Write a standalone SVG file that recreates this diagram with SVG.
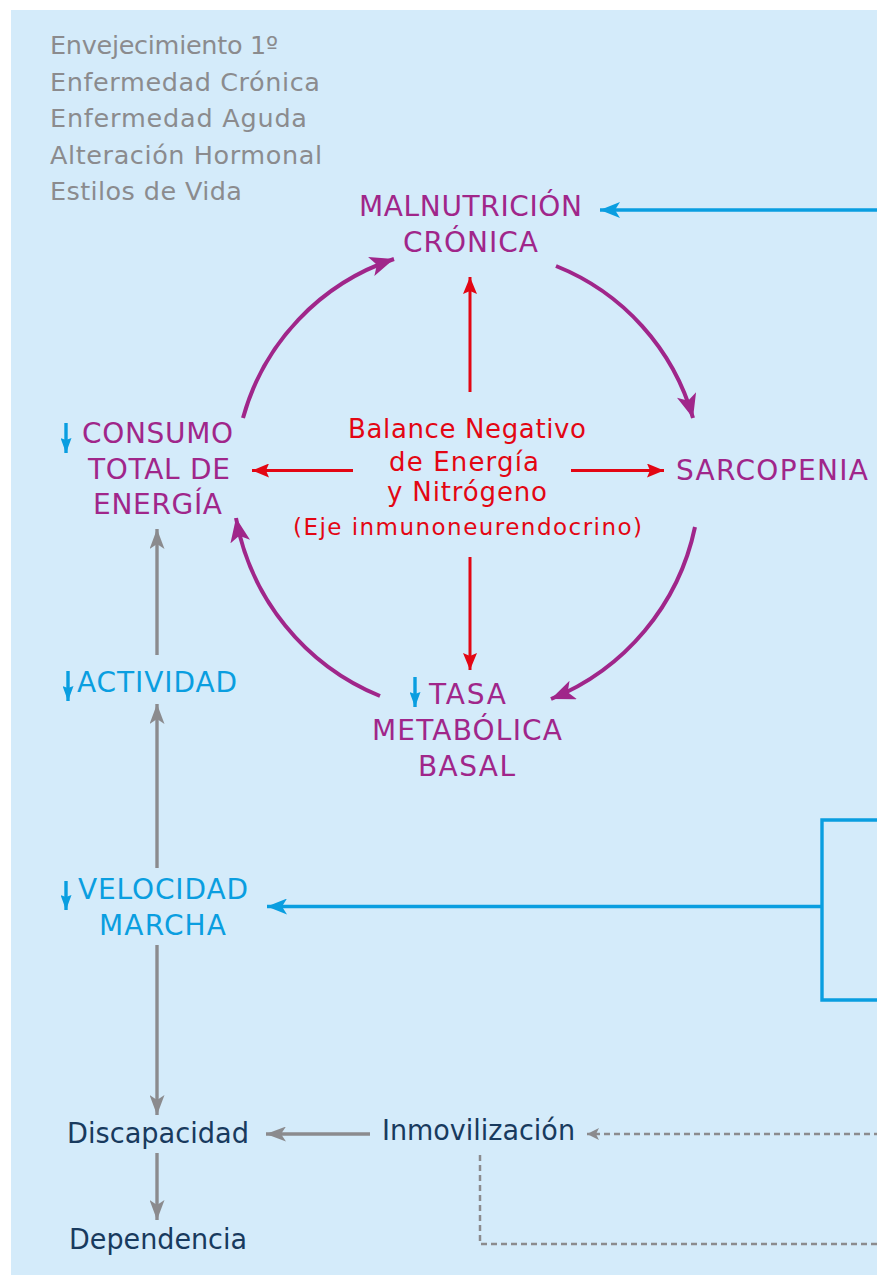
<svg xmlns="http://www.w3.org/2000/svg" width="877" height="1279" viewBox="0 0 877 1279">
<style>
text{font-family:"DejaVu Sans","Noto Sans",sans-serif;}
.g{fill:#8B8B8E;font-size:25.5px;}
.p{fill:#A0268A;font-size:28px;}
.r{fill:#E30613;font-size:26px;}
.b{fill:#0A9EE0;font-size:28px;}
.n{fill:#183A5E;font-size:28px;font-family:"DejaVu Sans Condensed","Liberation Sans Narrow","DejaVu Sans",sans-serif;}
.pl{fill:none;stroke:#A0268A;stroke-width:4;}
.rl{fill:none;stroke:#E30613;stroke-width:3;}
.bl{fill:none;stroke:#0A9EE0;stroke-width:3.4;}
.gl{fill:none;stroke:#8B8B8E;stroke-width:3.4;}
.gd{fill:none;stroke:#8B8B8E;stroke-width:2.5;stroke-dasharray:6 4;}
</style>
<defs>
<marker id="mp" markerUnits="userSpaceOnUse" viewBox="0 0 24 20" refX="24" refY="10" markerWidth="24" markerHeight="20" orient="auto"><path d="M0,0 L24,10 L0,20 L6,10 Z" fill="#A0268A"/></marker>
<marker id="mr" markerUnits="userSpaceOnUse" viewBox="0 0 17 14" refX="17" refY="7" markerWidth="17" markerHeight="14" orient="auto"><path d="M0,0 L17,7 L0,14 L3,7 Z" fill="#E30613"/></marker>
<marker id="mb" markerUnits="userSpaceOnUse" viewBox="0 0 20 16" refX="20" refY="8" markerWidth="20" markerHeight="16" orient="auto"><path d="M0,0 L20,8 L0,16 L5,8 Z" fill="#0A9EE0"/></marker>
<marker id="mbs" markerUnits="userSpaceOnUse" viewBox="0 0 15 11" refX="15" refY="5.5" markerWidth="15" markerHeight="11" orient="auto"><path d="M0,0 L15,5.5 L0,11 L2,5.5 Z" fill="#0A9EE0"/></marker>
<marker id="mg" markerUnits="userSpaceOnUse" viewBox="0 0 20 15" refX="20" refY="7.5" markerWidth="20" markerHeight="15" orient="auto"><path d="M0,0 L20,7.5 L0,15 L5,7.5 Z" fill="#8B8B8E"/></marker>
<marker id="mgs" markerUnits="userSpaceOnUse" viewBox="0 0 12 12" refX="12" refY="6" markerWidth="12" markerHeight="12" orient="auto"><path d="M0,0 L12,6 L0,12 L3,6 Z" fill="#8B8B8E"/></marker>
</defs>
<rect x="11" y="10" width="866" height="1265" fill="#D4EBFA"/>

<g id="factores">
<text class="g" x="50" y="54" textLength="228">Envejecimiento 1º</text>
<text class="g" x="50" y="90.5" textLength="270">Enfermedad Crónica</text>
<text class="g" x="50" y="127" textLength="257">Enfermedad Aguda</text>
<text class="g" x="50" y="164" textLength="272">Alteración Hormonal</text>
<text class="g" x="50" y="200" textLength="192">Estilos de Vida</text>
</g>

<g id="malnutricion">
<text class="p" x="359" y="216" textLength="223">MALNUTRICIÓN</text>
<text class="p" x="403" y="252" textLength="135">CRÓNICA</text>
</g>

<g id="consumo">
<text class="p" x="82" y="443" textLength="151">CONSUMO</text>
<text class="p" x="88" y="479" textLength="142">TOTAL DE</text>
<text class="p" x="93" y="514" textLength="129">ENERGÍA</text>
<path class="bl" d="M66,423 V453" stroke-width="3" marker-end="url(#mbs)"/>
</g>

<g id="sarcopenia">
<text class="p" x="676" y="480" textLength="192">SARCOPENIA</text>
</g>

<g id="balance">
<text class="r" x="348" y="438" textLength="238">Balance Negativo</text>
<text class="r" x="389" y="471" textLength="150">de Energía</text>
<text class="r" x="387" y="501" textLength="160">y Nitrógeno</text>
<text class="r" x="293" y="535" textLength="349" style="font-size:23px">(Eje inmunoneurendocrino)</text>
</g>

<g id="tasa">
<text class="p" x="429" y="704" textLength="77">TASA</text>
<text class="p" x="372" y="740" textLength="190">METABÓLICA</text>
<text class="p" x="418" y="776" textLength="97">BASAL</text>
<path class="bl" d="M415,677 V707" stroke-width="3" marker-end="url(#mbs)"/>
</g>

<g id="actividad">
<text class="b" x="77" y="692" textLength="160">ACTIVIDAD</text>
<path class="bl" d="M68,671 V701" stroke-width="3" marker-end="url(#mbs)"/>
</g>

<g id="velocidad">
<text class="b" x="78" y="899" textLength="170">VELOCIDAD</text>
<text class="b" x="99" y="935" textLength="127">MARCHA</text>
<path class="bl" d="M66,881 V910" stroke-width="3" marker-end="url(#mbs)"/>
</g>

<g id="caja">
<path class="bl" d="M880,820 H822 V1000 H880" stroke-width="3.6"/>
</g>

<g id="discapacidad">
<text class="n" x="67" y="1143" textLength="182" lengthAdjust="spacingAndGlyphs">Discapacidad</text>
</g>
<g id="inmovilizacion">
<text class="n" x="382" y="1140" textLength="193" lengthAdjust="spacingAndGlyphs">Inmovilización</text>
</g>
<g id="dependencia">
<text class="n" x="69" y="1249" textLength="178" lengthAdjust="spacingAndGlyphs">Dependencia</text>
</g>

<g id="connectors">
<path class="pl" d="M243,418 A232,232 0 0 1 394,259" marker-end="url(#mp)"/>
<path class="pl" d="M556,266 A232,232 0 0 1 693,418" marker-end="url(#mp)"/>
<path class="pl" d="M695,527 A238,238 0 0 1 551,699" marker-end="url(#mp)"/>
<path class="pl" d="M380,696 A238,238 0 0 1 236,518" marker-end="url(#mp)"/>

<path class="rl" d="M470,392 V277" marker-end="url(#mr)"/>
<path class="rl" d="M353,470.5 H252" marker-end="url(#mr)"/>
<path class="rl" d="M571,470.5 H664" marker-end="url(#mr)"/>
<path class="rl" d="M470,557 V670" marker-end="url(#mr)"/>

<path class="bl" d="M880,210 H600" marker-end="url(#mb)"/>
<path class="bl" d="M822,906.5 H267" marker-end="url(#mb)"/>

<path class="gl" d="M157,655 V529" marker-end="url(#mg)"/>
<path class="gl" d="M157,868 V704" marker-end="url(#mg)"/>
<path class="gl" d="M157,945 V1115" marker-end="url(#mg)"/>
<path class="gl" d="M157,1153 V1220" marker-end="url(#mg)"/>
<path class="gl" d="M370,1134 H266" marker-end="url(#mg)"/>

<path class="gd" d="M880,1134 H587" marker-end="url(#mgs)"/>
<path class="gd" d="M480,1155 V1244 H880"/>
</g>
</svg>
